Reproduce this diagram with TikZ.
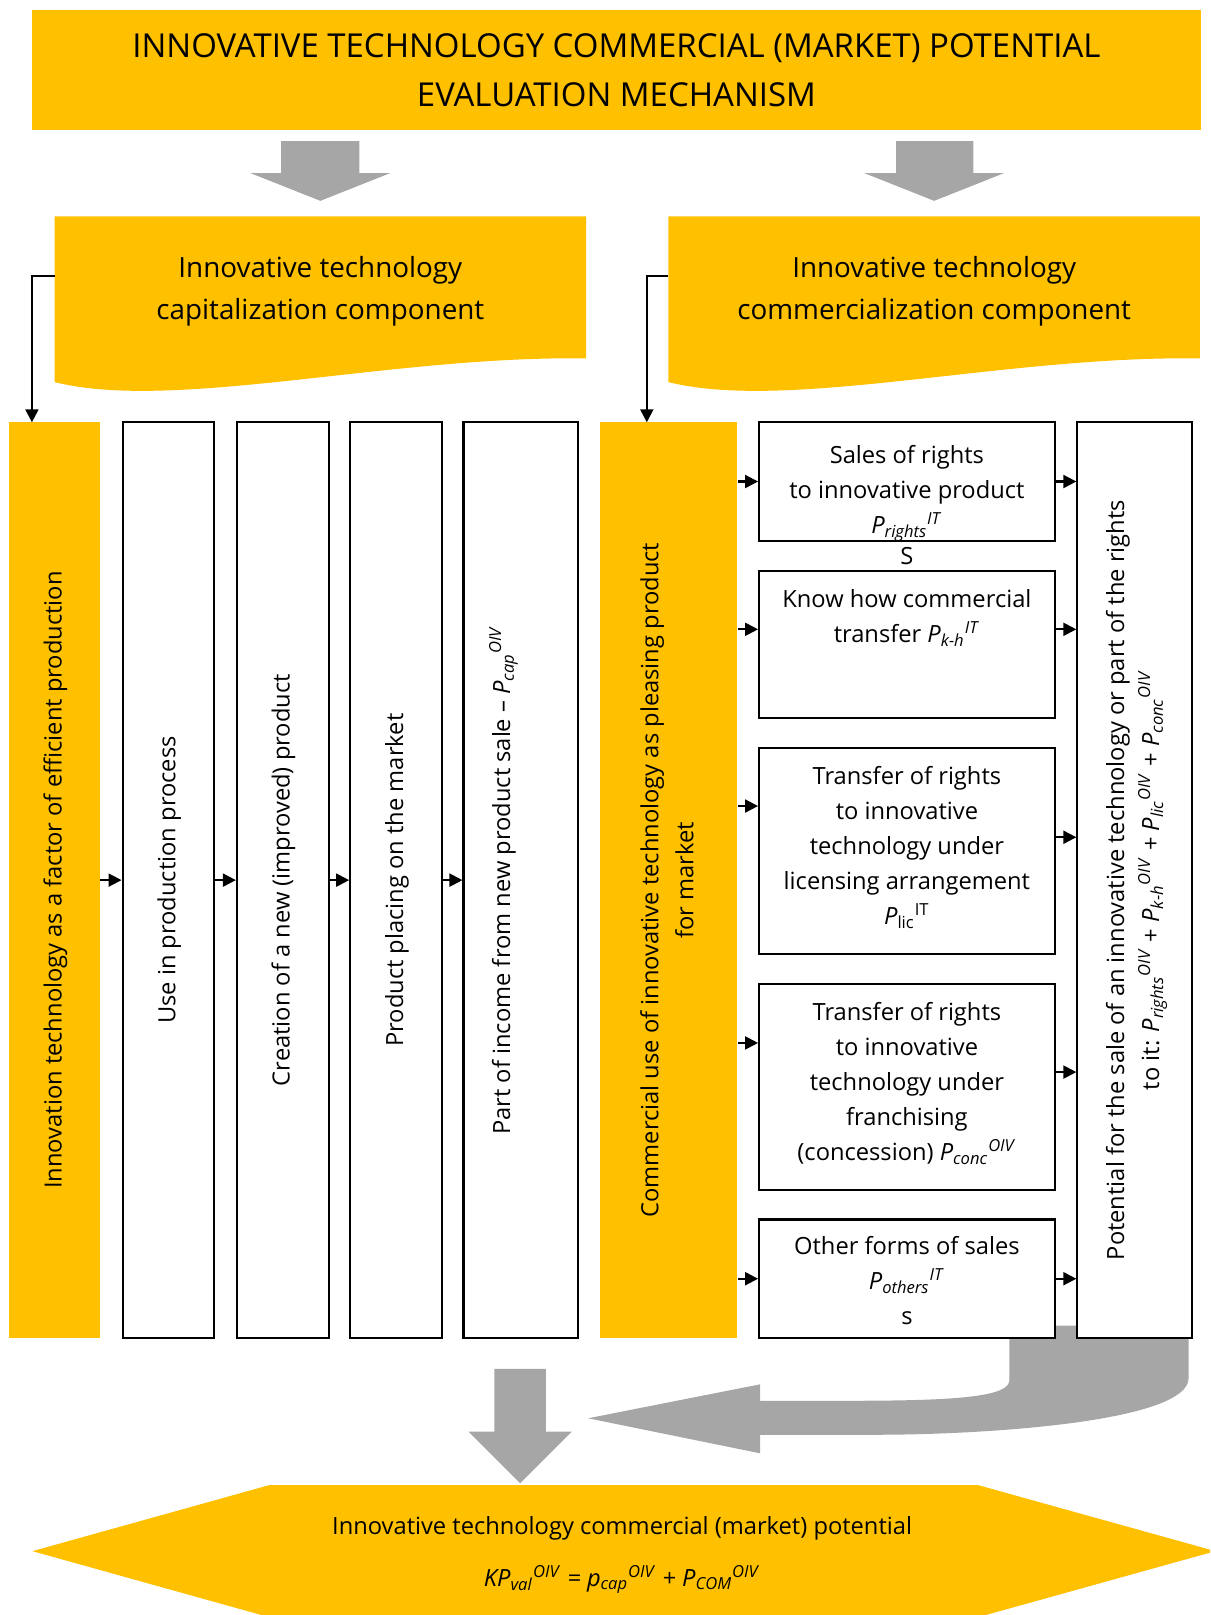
\documentclass[tikz,border=0pt]{standalone}
\usepackage{fontspec}
\setmainfont{Open Sans}
\usetikzlibrary{arrows.meta,calc}
\definecolor{gold}{HTML}{FFC000}
\definecolor{arrgray}{HTML}{A6A6A6}
\newcommand{\idx}[3]{\textit{#1}\textsubscript{\textit{#2}}\textsuperscript{\textit{#3}}}
\newcommand{\vtext}[1]{\rotatebox{90}{\begin{tabular}{@{}c@{}}#1\end{tabular}}}
\newcommand{\lowered}[2]{\raisebox{#1}[\height][\depth]{\begin{tabular}{@{}c@{}}#2\end{tabular}}}
\tikzset{
  every node/.style={font=\fontsize{11.5}{17}\selectfont},
  head/.style={align=center,font=\fontsize{13.5}{20.5}\selectfont},
  col/.style={draw,line width=1pt,fill=white,minimum width=#1,minimum height=444.5pt,inner sep=0pt},
  goldcol/.style={fill=gold,minimum width=#1,minimum height=444.5pt,inner sep=0pt},
  sale/.style={draw,line width=1pt,fill=white,minimum width=143.5pt,minimum height=#1,inner sep=0pt,align=center},
  link/.style={->,line width=1pt}
}
\begin{document}
\begin{tikzpicture}[x=.5pt,y=-.5pt,>={Triangle[length=6.3pt,width=6.3pt]}]
  \clip (0,0) rectangle (1175,1568);
  % grey block arrows
  \fill[arrgray] (273,137)--(349,137)--(349,168)--(379,168)--(311,195)--(243,168)--(273,168)--cycle;
  \fill[arrgray] (870,137)--(945,137)--(945,168)--(975,168)--(907,195)--(839,168)--(870,168)--cycle;
  \fill[arrgray] (480,1329)--(530,1329)--(530,1390)--(555,1390)--(505,1440)--(455,1390)--(480,1390)--cycle;
  \fill[arrgray] (980,1287)--(1154,1287)--(1154,1338) .. controls (1154,1380) and (960,1393) .. (850,1393)
    --(738,1393)--(738,1411)--(571,1377)--(738,1344)--(738,1360)--(824,1360)
    .. controls (930,1360) and (980,1356) .. (980,1340)--cycle;
  % result
  \fill[gold] (261,1442)--(950,1442)--(1180,1506)--(950,1570)--(261,1570)--(31.5,1506)--cycle;
  \node[align=center,font=\fontsize{11.5}{25}\selectfont] (result) at (604,1510)
    {Innovative technology commercial (market) potential\\
     \idx{KP}{val}{OIV} \textit{= }\idx{p}{cap}{OIV} \textit{+ }\idx{P}{COM}{OIV}};
  % title
  \node[fill=gold,minimum width=567.5pt,minimum height=58pt,align=center,
    font=\fontsize{16}{23.5}\selectfont] (title) at (598.5,68)
    {INNOVATIVE TECHNOLOGY COMMERCIAL (MARKET) POTENTIAL\\ EVALUATION MECHANISM};
  % components
  \fill[gold] (53,210)--(569,210)--(569,348) .. controls (380,345) and (170,400) .. (53,371)--cycle;
  \fill[gold] (649,210)--(1165,210)--(1165,348) .. controls (976,345) and (766,400) .. (649,371)--cycle;
  \node[head] (capHead) at (311,282.5) {Innovative technology\\ capitalization component};
  \node[head] (comHead) at (907,282.5) {Innovative technology\\ commercialization component};
  % capitalization row
  \node[goldcol=44pt] (bar1) at (53,854.5) {\vtext{Innovation technology as a factor of efficient production}};
  \node[col=44.5pt] (w2) at (163.5,854.5) {\vtext{Use in production process}};
  \node[col=44.5pt] (w3) at (274.5,854.5) {\vtext{Creation of a new (improved) product}};
  \node[col=44.5pt] (w4) at (384.5,854.5) {\vtext{Product placing on the market}};
  \node[col=55.5pt] (w5) at (505.5,854.5) {\vtext{Part of income from new product sale -- \idx{P}{cap}{OIV}\\ \mbox{}}};
  % commercialization row
  \node[goldcol=66.5pt] (bar2) at (649.5,854.5)
    {\vtext{Commercial use of innovative technology as pleasing product\\ for market}};
  \node[sale=57.5pt,label={[inner sep=0pt,label distance=2.5pt]below:S}] (b1) at (880.5,467.5)
    {\lowered{-5pt}{Sales of rights\\ to innovative product\\ \idx{P}{rights}{IT}}};
  \node[sale=71.5pt] (b2) at (880.5,625.5) {Know how commercial\\ transfer \idx{P}{k-h}{IT}\\[10.5pt] \mbox{}};
  \node[sale=100pt] (b3) at (880.5,826)
    {\lowered{1.5pt}{Transfer of rights\\ to innovative\\ technology under\\ licensing arrangement\\ \textit{P}\textsubscript{lic}\textsuperscript{IT}}};
  \node[sale=100pt] (b4) at (880.5,1055)
    {\lowered{1.5pt}{Transfer of rights\\ to innovative\\ technology under\\ franchising\\ (concession) \idx{P}{conc}{OIV}}};
  \node[sale=57.5pt] (b5) at (880.5,1241.5) {\lowered{-2pt}{Other forms of sales\\ \idx{P}{others}{IT}\\ s}};
  \node[col=55.5pt] (tall) at (1101.5,854.5)
    {\vtext{Potential for the sale of an innovative technology or part of the rights\\
     to it: \idx{P}{rights}{OIV} + \idx{P}{k-h}{OIV} + \idx{P}{lic}{OIV} + \idx{P}{conc}{OIV}}};
  % connectors
  \coordinate (capL) at (53,268);
  \coordinate (capD) at (31,410);
  \coordinate (comL) at (649,268);
  \coordinate (comD) at (628,410);
  \draw[link] (capL) -| (capD);
  \draw[link] (comL) -| (comD);
  \foreach \a/\b in {bar1/w2,w2/w3,w3/w4,w4/w5}
    \draw[link] (\a) -- (\b);
  \foreach \b/\l/\r in {b1/.5/.5,b2/.4/.4,b3/.285/.435,b4/.29/.43,b5/.5/.5}{
    \coordinate (l) at ($(\b.north west)!\l!(\b.south west)$);
    \coordinate (r) at ($(\b.north east)!\r!(\b.south east)$);
    \draw[link] (bar2.east |- l) -- (l);
    \draw[link] (r) -- (tall.west |- r);
  }
\end{tikzpicture}
\end{document}
